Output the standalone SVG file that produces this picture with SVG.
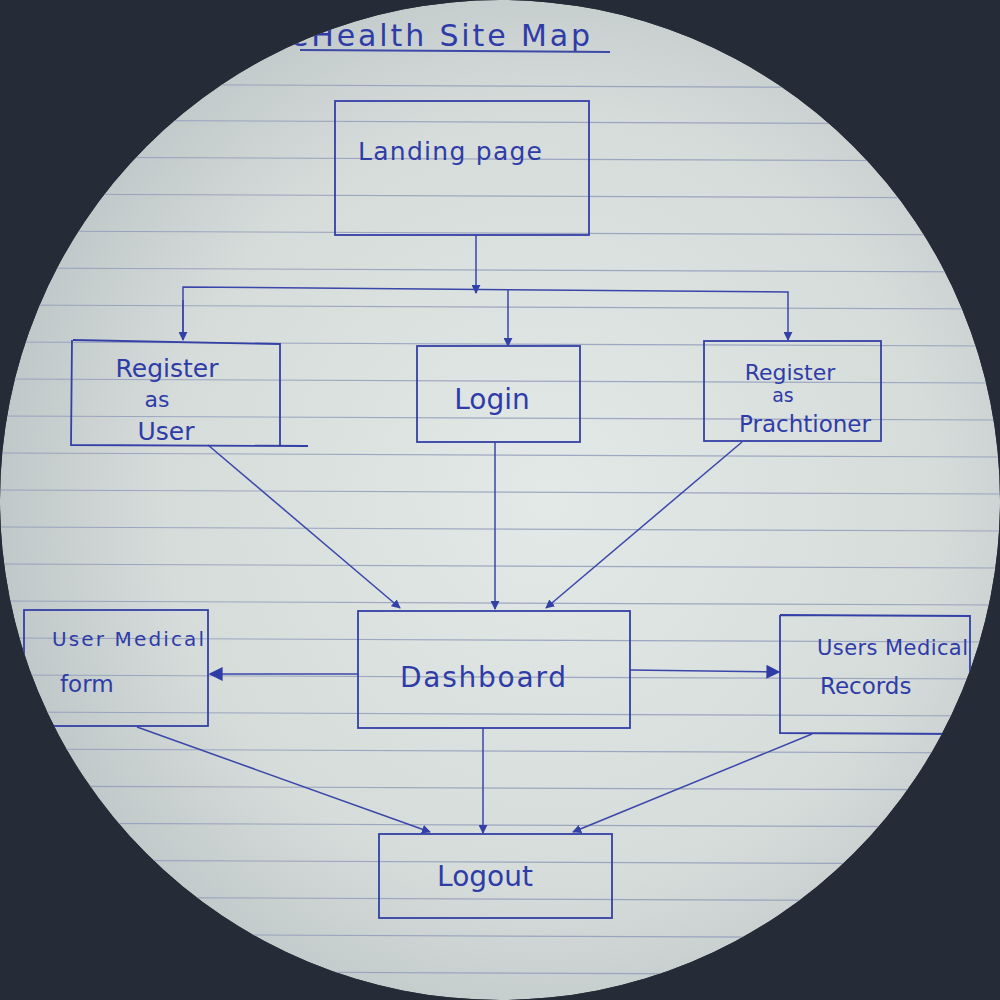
<svg xmlns="http://www.w3.org/2000/svg" width="1000" height="1000" viewBox="0 0 1000 1000">
<defs>
<radialGradient id="paper" cx="0.55" cy="0.5" r="0.55">
<stop offset="0" stop-color="#e3e9e6"/>
<stop offset="0.7" stop-color="#d6dcda"/>
<stop offset="1" stop-color="#c0c8c9"/>
</radialGradient>
<clipPath id="disc"><circle cx="500" cy="500" r="500"/></clipPath>
<marker id="ah" viewBox="0 0 10 10" refX="9" refY="5" markerWidth="9" markerHeight="9" markerUnits="userSpaceOnUse" orient="auto">
<path d="M0,0 L10,5 L0,10 z" fill="#3340a8"/>
</marker>
<marker id="ahL" viewBox="0 0 10 10" refX="9" refY="5" markerWidth="14" markerHeight="14" markerUnits="userSpaceOnUse" orient="auto">
<path d="M0,0 L10,5 L0,10 z" fill="#2f3ca6"/>
</marker>
</defs>
<style>
.box{fill:none;stroke:#3440a6;stroke-width:1.8}
.rule{stroke:#8e99ba;stroke-width:1.2;opacity:0.8}
.ink{font-family:"DejaVu Sans","Liberation Sans",sans-serif;fill:#2f3ca8;font-weight:normal}
.con{fill:none;stroke:#3a46aa;stroke-width:1.5}
</style>
<rect width="1000" height="1000" fill="#262c37"/>
<g clip-path="url(#disc)">
<circle cx="500" cy="500" r="500" fill="url(#paper)"/>
<g id="rules">
<line class="rule" x1="0" y1="84" x2="1000" y2="88"/>
<line class="rule" x1="0" y1="120" x2="1000" y2="124"/>
<line class="rule" x1="0" y1="157" x2="1000" y2="161"/>
<line class="rule" x1="0" y1="194" x2="1000" y2="198"/>
<line class="rule" x1="0" y1="231" x2="1000" y2="235"/>
<line class="rule" x1="0" y1="268" x2="1000" y2="272"/>
<line class="rule" x1="0" y1="305" x2="1000" y2="309"/>
<line class="rule" x1="0" y1="342" x2="1000" y2="346"/>
<line class="rule" x1="0" y1="379" x2="1000" y2="383"/>
<line class="rule" x1="0" y1="416" x2="1000" y2="420"/>
<line class="rule" x1="0" y1="453" x2="1000" y2="457"/>
<line class="rule" x1="0" y1="490" x2="1000" y2="494"/>
<line class="rule" x1="0" y1="527" x2="1000" y2="531"/>
<line class="rule" x1="0" y1="564" x2="1000" y2="568"/>
<line class="rule" x1="0" y1="601" x2="1000" y2="605"/>
<line class="rule" x1="0" y1="638" x2="1000" y2="642"/>
<line class="rule" x1="0" y1="675" x2="1000" y2="679"/>
<line class="rule" x1="0" y1="712" x2="1000" y2="716"/>
<line class="rule" x1="0" y1="749" x2="1000" y2="753"/>
<line class="rule" x1="0" y1="786" x2="1000" y2="790"/>
<line class="rule" x1="0" y1="823" x2="1000" y2="827"/>
<line class="rule" x1="0" y1="860" x2="1000" y2="864"/>
<line class="rule" x1="0" y1="897" x2="1000" y2="901"/>
<line class="rule" x1="0" y1="934" x2="1000" y2="938"/>
<line class="rule" x1="0" y1="971" x2="1000" y2="975"/>
</g>
<g id="title">
<text class="ink" x="290" y="46" font-size="30" fill="#1f2a9a" textLength="300">eHealth Site Map</text>
<line x1="300" y1="50" x2="610" y2="52" stroke="#3c4aa6" stroke-width="2"/>
</g>
<g id="connectors">
<line class="con" x1="476" y1="235" x2="476" y2="293" marker-end="url(#ah)"/>
<polyline class="con" points="183,336 183,287 788,292 788,340" marker-end="url(#ah)"/>
<line class="con" x1="183" y1="300" x2="183" y2="340" marker-end="url(#ah)"/>
<line class="con" x1="508" y1="290" x2="508" y2="346" marker-end="url(#ah)"/>
<line class="con" x1="208" y1="445" x2="400" y2="608" marker-end="url(#ah)"/>
<line class="con" x1="495" y1="442" x2="495" y2="609" marker-end="url(#ah)"/>
<line class="con" x1="742" y1="442" x2="546" y2="608" marker-end="url(#ah)"/>
<line class="con" x1="358" y1="674" x2="210" y2="674" stroke-width="2.5" marker-end="url(#ahL)"/>
<line class="con" x1="630" y1="670" x2="779" y2="672" stroke-width="2" marker-end="url(#ahL)"/>
<line class="con" x1="137" y1="727" x2="430" y2="832" marker-end="url(#ah)"/>
<line class="con" x1="483" y1="728" x2="483" y2="833" marker-end="url(#ah)"/>
<line class="con" x1="812" y1="734" x2="573" y2="832" marker-end="url(#ah)"/>
</g>
<g id="landing">
<rect class="box" x="335" y="101" width="254" height="134"/>
<text class="ink" x="358" y="160" font-size="25" textLength="184">Landing page</text>
</g>
<g id="register-user">
<path class="box" d="M73,340 L280,344 L280,446 M72,340 L71,445 L308,446"/>
<text class="ink" x="167" y="377" font-size="25" text-anchor="middle">Register</text>
<text class="ink" x="157" y="407" font-size="22" text-anchor="middle">as</text>
<text class="ink" x="166" y="440" font-size="25" text-anchor="middle">User</text>
</g>
<g id="login">
<rect class="box" x="417" y="346" width="163" height="96"/>
<text class="ink" x="492" y="409" font-size="28" text-anchor="middle">Login</text>
</g>
<g id="register-practitioner">
<rect class="box" x="704" y="341" width="177" height="100"/>
<text class="ink" x="790" y="380" font-size="22" text-anchor="middle">Register</text>
<text class="ink" x="783" y="402" font-size="19" text-anchor="middle">as</text>
<text class="ink" x="805" y="432" font-size="23" text-anchor="middle">Prachtioner</text>
</g>
<g id="dashboard">
<rect class="box" x="358" y="611" width="272" height="117"/>
<text class="ink" x="483" y="687" font-size="28" text-anchor="middle" textLength="166" fill="#4450aa">Dashboard</text>
</g>
<g id="user-medical-form">
<rect class="box" x="24" y="610" width="184" height="116"/>
<text class="ink" x="52" y="646" font-size="20" textLength="152">User Medical</text>
<text class="ink" x="60" y="692" font-size="23">form</text>
</g>
<g id="users-medical-records">
<path class="box" d="M780,615 L970,616 L970,734 M780,615 L780,733 L960,734"/>
<text class="ink" x="817" y="655" font-size="21" textLength="151">Users Medical</text>
<text class="ink" x="820" y="694" font-size="23">Records</text>
</g>
<g id="logout">
<rect class="box" x="379" y="834" width="233" height="84"/>
<text class="ink" x="485" y="886" font-size="28" text-anchor="middle">Logout</text>
</g>
</g>
</svg>
